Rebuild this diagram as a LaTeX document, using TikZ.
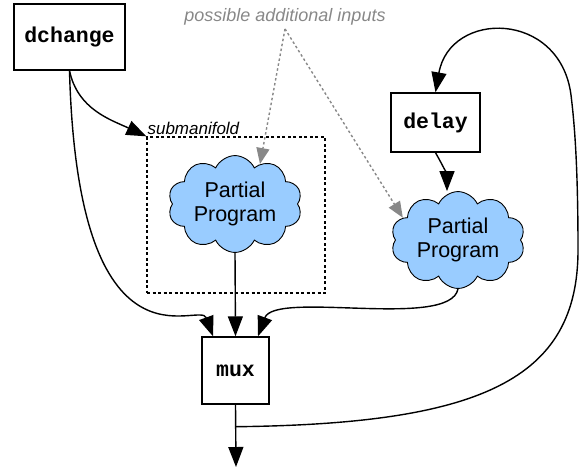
\documentclass[tikz,border=0pt]{standalone}
\usepackage{xcolor}
\usepackage{fontspec}
\setmainfont{Liberation Sans}
\setmonofont{Liberation Mono}
\usetikzlibrary{calc}
\usetikzlibrary{shapes.symbols, arrows.meta}

\definecolor{cloudblue}{HTML}{99CCFF}
\definecolor{hintgray}{HTML}{888888}

\begin{document}
\begin{tikzpicture}[x=1pt,y=-1pt,
		box/.style={draw,line width=1.4pt,fill=white,font=\ttfamily\bfseries\fontsize{21.5}{24}\selectfont},
		puff/.style={draw,cloud,cloud puffs=10,cloud puff arc=130,aspect=1.5,fill=cloudblue,line width=0.9pt,inner sep=0pt,minimum width=134pt,minimum height=89pt,align=center,font=\fontsize{21.5}{24}\selectfont},
		arr/.style={-{Triangle[length=20pt,width=15pt]},line width=1.4pt},
		hint/.style={-{Triangle[length=16pt,width=13pt]},color=hintgray,line width=1.4pt,dash pattern=on 2.5pt off 2.5pt}]
		\useasboundingbox (0,0) rectangle (585,472);
		\node [box,minimum width=111pt,minimum height=66pt] at (69.5,37) (dchange) {dchange};
		\node [box,minimum width=89pt,minimum height=59pt] at (435.5,122.5) (delay) {delay};
		\node [box,minimum width=67pt,minimum height=67pt] at (235.5,370.5) (mux) {mux};
		\node [draw,dash pattern=on 3pt off 2.5pt,line width=1.3pt,minimum width=178pt,minimum height=156pt] at (236,215) (sub) {};
		\node [anchor=south west,inner sep=1pt,font=\itshape\fontsize{17}{18}\selectfont] at (sub.north west) (sublabel) {submanifold};
		\node [text=hintgray,font=\itshape\fontsize{18}{20}\selectfont] at (285,17) (inputs) {possible additional inputs};
		\node [puff] at (235,204) (pp1) {Partial\\Program};
		\node [puff] at (458,240) (pp2) {Partial\\Program};
		\coordinate (muxl) at ($(mux.north)+(-22.5,0)$);
		\coordinate (muxr) at ($(mux.north)+(22.5,0)$);
		\coordinate (pp2top) at ($(pp2.north)+(-11,0)$);
		\coordinate (tap) at ($(mux.south)+(0,22)$);
		\coordinate (exit) at (236,467);
		% inputs of the mux
		\draw [arr] (dchange.south) to [out=-78,in=155] (sub.north west);
		\draw [arr] (dchange.south) .. controls (78,385) and (200,300) .. (muxl);
		\draw [arr] (pp1.south) -- (mux.north);
		\draw [arr] (pp2.south) .. controls (450,330) and (275,290) .. (muxr);
		\draw [arr] (delay.south) to [out=-60,in=90] (pp2top);
		\draw [hint] (inputs.south) -- (pp1.58);
		\draw [hint] (inputs.south) -- (pp2.158);
		% output and feedback
		\draw [arr] (mux.south) -- (exit);
		\draw [arr] (tap) .. controls (480,424) and (578,380) .. (578,250)
			.. controls (578,160) and (574,120) .. (571,95)
			.. controls (560,10) and (450,10) .. (delay.north);
	\end{tikzpicture}
\end{document}
